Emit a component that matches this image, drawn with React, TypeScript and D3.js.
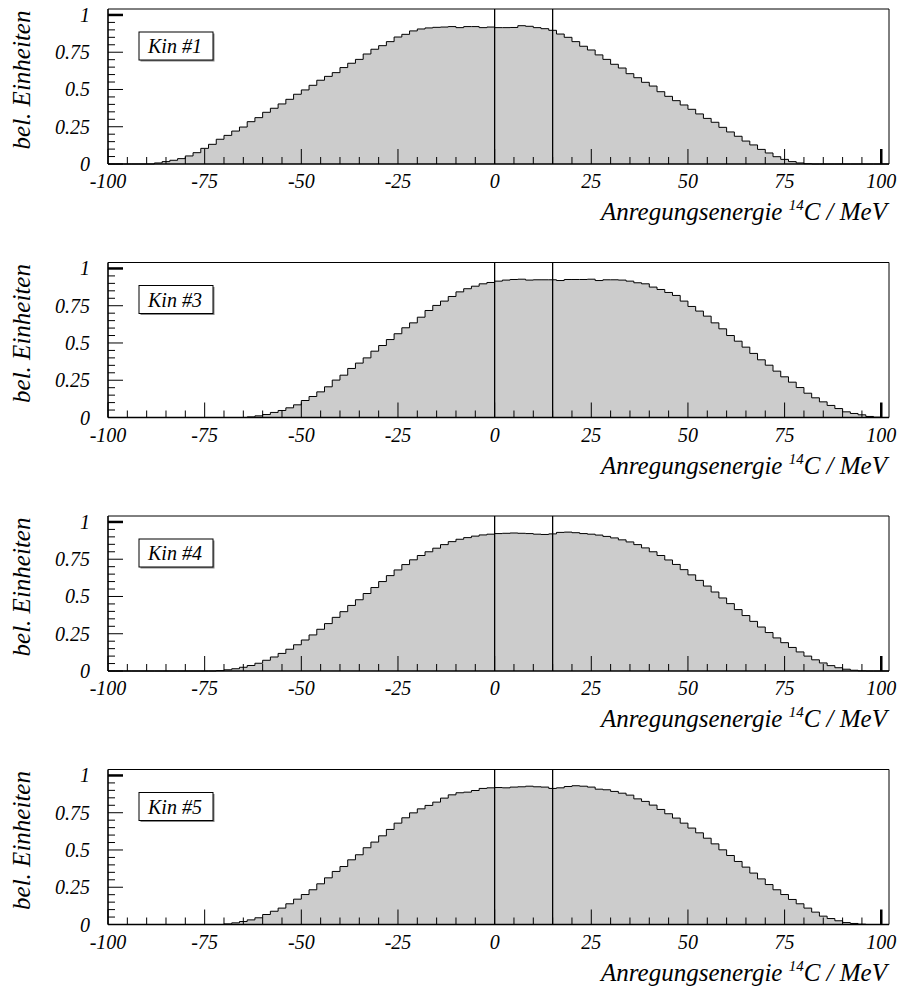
import React from 'react';
import * as d3 from 'd3';

// Histogram: 101 bins of 2 MeV, from -100 to 102 MeV
const X_MIN = -100;
const BIN_WIDTH = 2;

const kin1 = [
  0, 0, 0, 0, 0, 0,
  0.007, 0.016, 0.025, 0.036, 0.054, 0.076, 0.105, 0.132, 0.166, 0.192,
  0.221, 0.248, 0.284, 0.311, 0.347, 0.374, 0.403, 0.434, 0.468, 0.497,
  0.528, 0.562, 0.588, 0.613, 0.647, 0.676, 0.702, 0.738, 0.770, 0.794,
  0.821, 0.852, 0.870, 0.893, 0.906, 0.913, 0.917, 0.919, 0.922, 0.915,
  0.922, 0.922, 0.915, 0.919,
  0.915, 0.915, 0.916, 0.928, 0.924, 0.915, 0.908, 0.897, 0.872, 0.850,
  0.821, 0.790, 0.765, 0.732, 0.702, 0.669, 0.644, 0.606, 0.579, 0.548,
  0.523, 0.485, 0.454, 0.425, 0.396, 0.367, 0.336, 0.306, 0.280, 0.246,
  0.215, 0.186, 0.154, 0.128, 0.098, 0.074, 0.049, 0.031, 0.016, 0.007,
  0.002,
  0, 0, 0, 0, 0, 0, 0, 0, 0, 0,
];

const kin3 = [
  0, 0, 0, 0, 0, 0, 0, 0, 0, 0, 0, 0, 0, 0, 0, 0, 0, 0,
  0.004, 0.011, 0.020, 0.034, 0.047, 0.065, 0.085, 0.114, 0.141, 0.172,
  0.206, 0.251, 0.284, 0.329, 0.365, 0.400, 0.445, 0.483, 0.523, 0.562,
  0.602, 0.635, 0.673, 0.718, 0.752, 0.781, 0.812, 0.843, 0.864, 0.881,
  0.897, 0.906,
  0.915, 0.922, 0.926, 0.928, 0.922, 0.924, 0.924, 0.924, 0.919, 0.926,
  0.926, 0.926, 0.928, 0.919, 0.924, 0.924, 0.922, 0.915, 0.904, 0.897,
  0.875, 0.859, 0.839, 0.819, 0.781, 0.745, 0.714, 0.680, 0.635, 0.595,
  0.550, 0.512, 0.472, 0.430, 0.387, 0.351, 0.311, 0.273, 0.237, 0.201,
  0.163, 0.132, 0.105, 0.081, 0.060, 0.038, 0.027, 0.018, 0.007, 0.002,
  0,
];

const kin4 = [
  0, 0, 0, 0, 0, 0, 0, 0, 0, 0, 0, 0, 0, 0,
  0.003, 0.008, 0.015, 0.025, 0.037, 0.052, 0.072, 0.094, 0.118, 0.146,
  0.176, 0.208, 0.242, 0.280, 0.318, 0.360, 0.398, 0.440, 0.478, 0.520,
  0.560, 0.600, 0.640, 0.678, 0.714, 0.746, 0.775, 0.800, 0.824, 0.848,
  0.868, 0.884, 0.895, 0.905, 0.913, 0.918,
  0.922, 0.924, 0.926, 0.924, 0.922, 0.918, 0.916, 0.920, 0.930, 0.932,
  0.928, 0.922, 0.918, 0.912, 0.903, 0.893, 0.880, 0.866, 0.848, 0.826,
  0.800, 0.775, 0.745, 0.715, 0.680, 0.645, 0.608, 0.570, 0.530, 0.490,
  0.452, 0.412, 0.372, 0.333, 0.295, 0.258, 0.222, 0.190, 0.158, 0.128,
  0.100, 0.075, 0.054, 0.036, 0.022, 0.012, 0.005, 0.001,
  0, 0, 0,
];

const kin5 = [
  0, 0, 0, 0, 0, 0, 0, 0, 0, 0, 0, 0, 0, 0, 0,
  0.004, 0.011, 0.020, 0.031, 0.045, 0.067, 0.089, 0.110, 0.139, 0.170,
  0.201, 0.233, 0.273, 0.313, 0.356, 0.389, 0.434, 0.468, 0.515, 0.553,
  0.595, 0.638, 0.680, 0.716, 0.749, 0.776, 0.799, 0.821, 0.848, 0.870,
  0.884, 0.888, 0.899, 0.913, 0.917,
  0.919, 0.917, 0.922, 0.924, 0.928, 0.924, 0.922, 0.913, 0.917, 0.926,
  0.931, 0.928, 0.922, 0.908, 0.904, 0.893, 0.881, 0.868, 0.843, 0.826,
  0.801, 0.772, 0.743, 0.714, 0.680, 0.647, 0.615, 0.579, 0.541, 0.501,
  0.463, 0.423, 0.385, 0.345, 0.306, 0.268, 0.233, 0.201, 0.168, 0.139,
  0.110, 0.083, 0.056, 0.040, 0.025, 0.013, 0.007, 0.002,
  0, 0, 0,
];

const panelLabels = ['Kin #1', 'Kin #3', 'Kin #4', 'Kin #5'];
const panelValues = [kin1, kin3, kin4, kin5];

const xTickValues = [-100, -75, -50, -25, 0, 25, 50, 75, 100];
const xTickLabels = ['-100', '-75', '-50', '-25', '0', '25', '50', '75', '100'];
const yTickValues = [0, 0.25, 0.5, 0.75, 1];
const yTickLabels = ['0', '0.25', '0.5', '0.75', '1'];
const markerLines = [0, 15];

const X_DOMAIN: [number, number] = [-100, 102];
const Y_DOMAIN: [number, number] = [0, 1.04];

const W = 899;
const H = 998;
const LEFT = 108;
const RIGHT = 889;
const PANEL_H = 155;
const FIRST_TOP = 9;
const PANEL_STEP = 253.5;
const FONT = 'Liberation Serif';

function Panel({ top, label, values }: { top: number; label: string; values: number[] }) {
  const x = d3.scaleLinear().domain(X_DOMAIN).range([LEFT, RIGHT]);
  const y = d3.scaleLinear().domain(Y_DOMAIN).range([top + PANEL_H, top]);
  const bottom = y(0);

  const pts: [number, number][] = values.map((v, i) => [X_MIN + i * BIN_WIDTH, v]);
  pts.push([X_MIN + values.length * BIN_WIDTH, values[values.length - 1]]);

  const area = d3
    .area<[number, number]>()
    .x((d) => x(d[0]))
    .y0(bottom)
    .y1((d) => y(d[1]))
    .curve(d3.curveStepAfter);
  const line = d3
    .line<[number, number]>()
    .x((d) => x(d[0]))
    .y((d) => y(d[1]))
    .curve(d3.curveStepAfter);

  const xMinor = d3.range(-100, 100.001, 5);
  const yMinor = d3.range(0, 1.0001, 0.05);

  return (
    <g>
      <path d={area(pts) || ''} fill="#cccccc" stroke="none" />
      <path d={line(pts) || ''} fill="none" stroke="#000" strokeWidth={1} />
      {/* frame */}
      <line x1={LEFT} x2={RIGHT} y1={top} y2={top} stroke="#000" strokeWidth={1} />
      <line x1={RIGHT} x2={RIGHT} y1={top} y2={bottom} stroke="#000" strokeWidth={1} />
      {/* marker lines */}
      {markerLines.map((m) => (
        <line key={m} x1={x(m)} x2={x(m)} y1={top} y2={bottom} stroke="#000" strokeWidth={1.3} />
      ))}
      {/* x ticks */}
      {xMinor.map((t) => {
        const major = xTickValues.includes(Math.round(t));
        return (
          <line
            key={'xm' + t}
            x1={x(t)}
            x2={x(t)}
            y1={bottom}
            y2={bottom - (major ? 15 : 7)}
            stroke="#000"
            strokeWidth={Math.round(t) === 100 ? 2.5 : 1}
          />
        );
      })}
      {/* y ticks */}
      {yMinor.map((t) => {
        const major = yTickValues.some((v) => Math.abs(v - t) < 1e-6);
        return (
          <line
            key={'ym' + t}
            x1={LEFT}
            x2={LEFT + (major ? 15 : 7)}
            y1={y(t)}
            y2={y(t)}
            stroke="#000"
            strokeWidth={Math.abs(t - 1) < 1e-6 ? 2.5 : 1}
          />
        );
      })}
      {/* axes */}
      <line x1={LEFT} x2={RIGHT} y1={bottom} y2={bottom} stroke="#000" strokeWidth={1.6} />
      <line x1={LEFT} x2={LEFT} y1={top} y2={bottom} stroke="#000" strokeWidth={1.6} />
      {/* tick labels */}
      {xTickValues.map((t, i) => (
        <text
          key={'xl' + t}
          x={x(t)}
          y={bottom + 24}
          textAnchor="middle"
          fontFamily={FONT}
          fontStyle="italic"
          fontSize={20}
        >
          {xTickLabels[i]}
        </text>
      ))}
      {yTickValues.map((t, i) => (
        <text
          key={'yl' + t}
          x={90}
          y={y(t) + 7}
          textAnchor="end"
          fontFamily={FONT}
          fontStyle="italic"
          fontSize={20}
        >
          {yTickLabels[i]}
        </text>
      ))}
      {/* axis titles */}
      <text x={887} y={bottom + 56} textAnchor="end" fontFamily={FONT} fontStyle="italic" fontSize={25}>
        Anregungsenergie{' '}
        <tspan fontSize={15} dy={-10}>
          14
        </tspan>
        <tspan dy={10}>C / MeV</tspan>
      </text>
      <text
        transform={`translate(30,${top + 71}) rotate(-90)`}
        textAnchor="middle"
        fontFamily={FONT}
        fontStyle="italic"
        fontSize={25}
      >
        bel. Einheiten
      </text>
      {/* label box */}
      <rect x={140.5} y={top + 24.5} width={74} height={28} fill="#888" />
      <rect x={139} y={top + 23} width={74} height={28} fill="#fff" stroke="#000" strokeWidth={1} />
      <text x={148} y={top + 44} fontFamily={FONT} fontStyle="italic" fontSize={20}>
        {label}
      </text>
    </g>
  );
}

export default function App() {
  return (
    <svg width={W} height={H} style={{ position: 'absolute', left: 0, top: 0, background: '#fff' }}>
      <rect x={0} y={0} width={W} height={H} fill="#fff" />
      {panelLabels.map((lab, k) => (
        <Panel key={lab} top={FIRST_TOP + k * PANEL_STEP} label={lab} values={panelValues[k]} />
      ))}
    </svg>
  );
}
